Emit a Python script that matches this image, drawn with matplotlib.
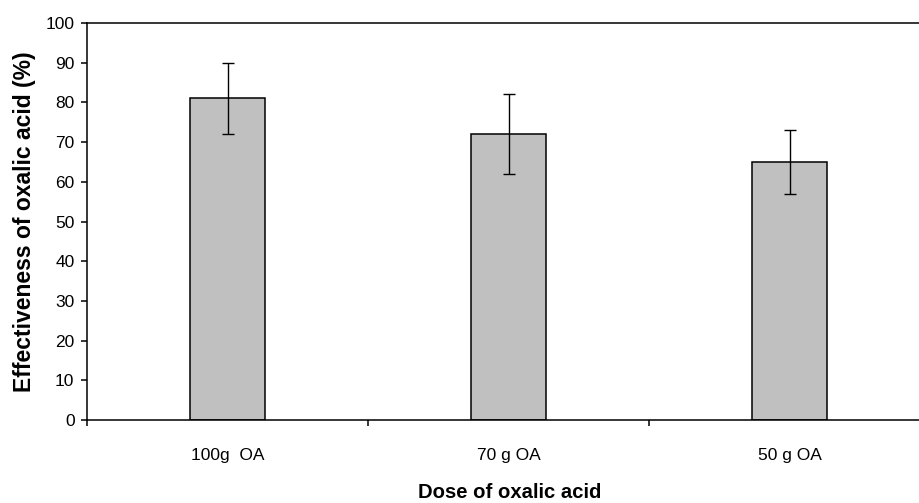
import matplotlib
matplotlib.use("Agg")
import matplotlib.pyplot as plt
import numpy as np

categories = ["100g  OA", "70 g OA", "50 g OA"]
values = [81, 72, 65]
errors = [9, 10, 8]
yticks = [0, 10, 20, 30, 40, 50, 60, 70, 80, 90, 100]

plt.rcParams['font.family'] = ['Liberation Sans', 'DejaVu Sans']

fig = plt.figure(figsize=(9.19, 5.03), dpi=100)
ax = fig.add_axes([87/919, 1-420/503, (930-87)/919, (420-23)/503])

x = np.arange(len(categories)) + 0.5
ax.bar(x, values, width=0.265, color='#C0C0C0', edgecolor='black', linewidth=1.1, zorder=2)
ax.errorbar(x, values, yerr=errors, fmt='none', ecolor='black', elinewidth=1.0,
            capsize=4, capthick=1.0, zorder=3)

ax.set_xlim(0, 3)
ax.set_ylim(0, 100)
ax.set_yticks(yticks)
ax.set_yticklabels([str(t) for t in yticks], fontsize=12.5)
ax.set_xticks(x)
ax.set_xticklabels(categories, fontsize=12.5)
ax.set_xticks([0, 1, 2, 3], minor=True)
ax.tick_params(axis='x', which='major', length=0, pad=20)
ax.tick_params(axis='x', which='minor', length=4, width=1.1, direction='out')
ax.tick_params(axis='y', which='major', length=4, width=1.1, direction='out', pad=5)

for s in ax.spines.values():
    s.set_linewidth(1.1)
ax.spines['right'].set_visible(False)

ax.set_ylabel("Effectiveness of oxalic acid (%)", fontsize=16.5, fontweight='bold')
fig.text(510/919, 1-493/503, "Dose of oxalic acid", fontsize=14.6, fontweight='bold',
         ha='center', va='center')
ax.yaxis.set_label_coords(-(87-24)/(930-87), 0.5)
ax.yaxis.label.set_va('center')

fig.savefig("out.png", dpi=100)
